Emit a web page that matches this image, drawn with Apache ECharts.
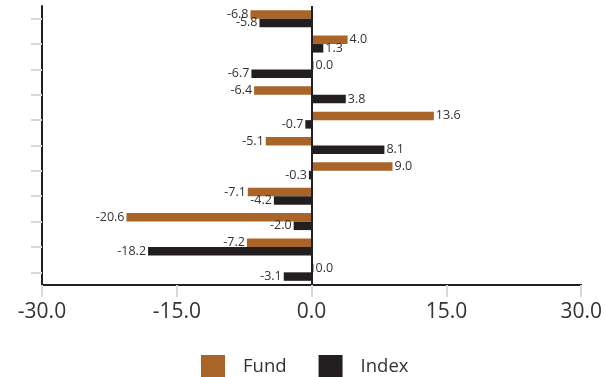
<!DOCTYPE html>
<html>
<head>
<meta charset="utf-8">
<script src="https://cdn.jsdelivr.net/npm/echarts@6/dist/echarts.min.js"></script>
<style>
  html, body { margin: 0; padding: 0; background: #ffffff; }
  #chart { width: 605px; height: 377px; }
</style>
</head>
<body>
<div id="chart"></div>
<script>
// Periods shown top to bottom (axis labels are hidden)
const categories = ['P1', 'P2', 'P3', 'P4', 'P5', 'P6', 'P7', 'P8', 'P9', 'P10', 'P11'];
const fundValues = [-6.8, 4.0, 0.0, -6.4, 13.6, -5.1, 9.0, -7.1, -20.6, -7.2, 0.0];
const indexValues = [-5.8, 1.3, -6.7, 3.8, -0.7, 8.1, -0.3, -4.2, -2.0, -18.2, -3.1];
const xTicks = { min: -30, max: 30, interval: 15 };

const FONT = '"Open Sans", "Liberation Sans", sans-serif';
const FUND_COLOR = '#A96428';
const INDEX_COLOR = '#231F20';
const LINE_COLOR = '#231F20';
const TICK_COLOR = '#D9D9D9';
const TEXT_COLOR = '#333333';

// Value labels sit beyond the bar end: right for positive, left for negative
function toBarData(values) {
  return values.map(v => ({
    value: v,
    label: { position: v < 0 ? 'left' : 'right' }
  }));
}

const barLabel = {
  show: true,
  distance: 2,
  color: TEXT_COLOR,
  fontFamily: FONT,
  fontSize: 12.5,
  formatter: p => Number(p.value).toFixed(1)
};

const chart = echarts.init(document.getElementById('chart'), null, { renderer: 'canvas' });

chart.setOption({
  animation: false,
  backgroundColor: '#ffffff',
  grid: { left: 42, right: 22, top: 6, bottom: 92, containLabel: false },
  xAxis: {
    type: 'value',
    min: xTicks.min,
    max: xTicks.max,
    interval: xTicks.interval,
    axisLine: { show: true, onZero: false, lineStyle: { color: LINE_COLOR, width: 2 } },
    axisTick: { show: true, length: 12, lineStyle: { color: TICK_COLOR, width: 2 } },
    axisLabel: {
      color: TEXT_COLOR,
      fontFamily: FONT,
      fontSize: 21,
      margin: 17,
      formatter: v => v.toFixed(1)
    },
    splitLine: { show: false }
  },
  yAxis: {
    type: 'category',
    data: categories,
    inverse: true,
    position: 'left',
    axisLine: { show: true, onZero: false, lineStyle: { color: LINE_COLOR, width: 2 } },
    axisTick: { show: true, alignWithLabel: true, length: 11, lineStyle: { color: TICK_COLOR, width: 2 } },
    axisLabel: { show: false },
    splitLine: { show: false }
  },
  legend: {
    left: 201,
    top: 355,
    padding: 0,
    itemWidth: 24,
    itemHeight: 24,
    itemGap: 32,
    icon: 'rect',
    textStyle: {
      color: TEXT_COLOR,
      fontFamily: FONT,
      fontSize: 18.5,
      padding: [3, 0, 0, 13]
    },
    data: ['Fund', 'Index']
  },
  series: [
    {
      name: 'Fund',
      type: 'bar',
      data: toBarData(fundValues),
      itemStyle: { color: FUND_COLOR },
      barGap: '0%',
      barCategoryGap: '33%',
      barMinHeight: 2,
      label: barLabel,
      markLine: {
        silent: true,
        symbol: 'none',
        label: { show: false },
        lineStyle: { color: LINE_COLOR, width: 2, type: 'solid' },
        data: [{ xAxis: 0 }]
      }
    },
    {
      name: 'Index',
      type: 'bar',
      data: toBarData(indexValues),
      itemStyle: { color: INDEX_COLOR },
      barGap: '0%',
      barCategoryGap: '33%',
      barMinHeight: 2,
      label: barLabel
    }
  ]
});
</script>
</body>
</html>
